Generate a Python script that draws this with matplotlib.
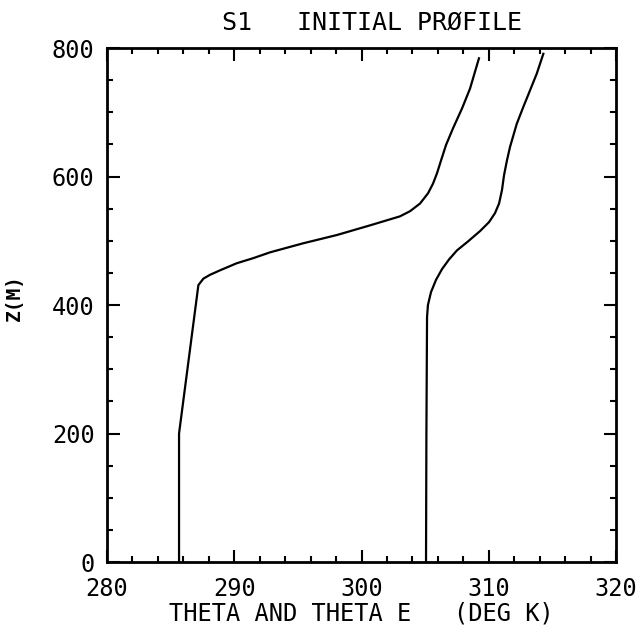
import matplotlib
matplotlib.use("Agg")
import matplotlib.pyplot as plt
from matplotlib.ticker import MultipleLocator

# potential temperature profile (K) vs height (m)
theta = [285.66, 285.66, 287.18, 287.57, 288.09, 288.88, 290.19, 291.50,
         292.81, 295.40, 298.07, 300.67, 303.02, 303.81, 304.60, 305.23,
         305.62, 305.93, 306.25, 306.64, 307.19, 307.90, 308.53, 309.23]
z_theta = [0, 200, 431, 441, 447, 454, 465, 473,
           482, 496, 509, 524, 538, 546, 558, 574,
           589, 605, 625, 649, 675, 706, 737, 784]

# equivalent potential temperature profile
theta_e = [305.07, 305.10, 305.15, 305.22, 305.46, 305.85, 306.33, 306.88,
           307.50, 308.37, 309.31, 310.02, 310.49, 310.81, 311.04, 311.20,
           311.43, 311.67, 312.20, 312.71, 313.24, 313.77, 314.29]
z_theta_e = [0, 200, 381, 400, 420, 439, 456, 471,
             485, 499, 515, 529, 543, 558, 579, 602,
             625, 646, 682, 708, 734, 760, 791]

xticks = [280, 290, 300, 310, 320]
yticks = [0, 200, 400, 600, 800]

mono = "DejaVu Sans Mono"

fig = plt.figure(figsize=(6.42, 6.37), dpi=100)
ax = fig.add_axes([0.1667, 0.1177, 0.7928, 0.8069])

ax.plot(theta, z_theta, color="black", lw=1.6, solid_joinstyle="round")
ax.plot(theta_e, z_theta_e, color="black", lw=1.6, solid_joinstyle="round")

ax.set_xlim(280, 320)
ax.set_ylim(0, 800)
ax.set_xticks(xticks)
ax.set_yticks(yticks)
ax.xaxis.set_minor_locator(MultipleLocator(2))
ax.yaxis.set_minor_locator(MultipleLocator(50))
ax.tick_params(which="both", direction="in", top=True, right=True, width=1.5)
ax.tick_params(which="major", length=9)
ax.tick_params(which="minor", length=4)
ax.tick_params(axis="x", pad=11)
ax.tick_params(axis="y", pad=9)
for lab in ax.get_xticklabels() + ax.get_yticklabels():
    lab.set_fontfamily(mono)
    lab.set_fontsize(17)
for s in ax.spines.values():
    s.set_linewidth(2)

ax.set_xlabel("THETA AND THETA E   (DEG K)", fontsize=17, family=mono, labelpad=0)
ax.set_ylabel("Z(M)", fontsize=14, family=mono, fontweight="bold")
ax.yaxis.set_label_coords(-0.163, 0.514)
ax.set_title("S1   INITIAL PRØFILE", fontsize=18, family=mono, pad=13, x=0.52)

fig.savefig("out.png", dpi=100)
